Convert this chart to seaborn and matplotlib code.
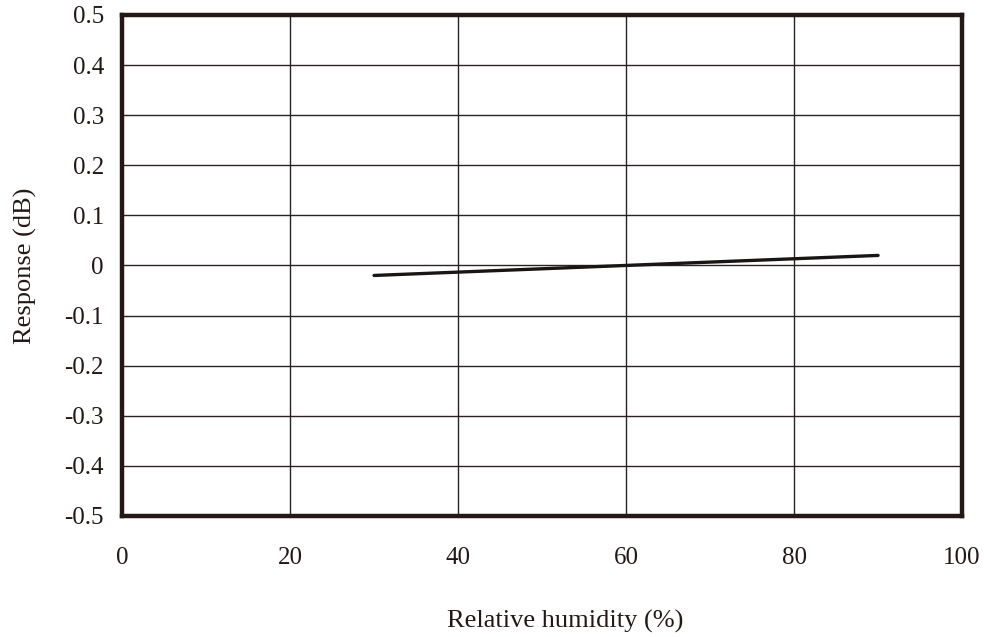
import pandas as pd
import seaborn as sns
import matplotlib
matplotlib.use("Agg")
import matplotlib.pyplot as plt

# humidity response curve
humidity = [30, 60, 90]
response = [-0.02, 0.0, 0.02]

x_ticks = [0, 20, 40, 60, 80, 100]
y_ticks = [-0.5, -0.4, -0.3, -0.2, -0.1, 0, 0.1, 0.2, 0.3, 0.4, 0.5]
y_labels = ["-0.5", "-0.4", "-0.3", "-0.2", "-0.1", "0", "0.1", "0.2", "0.3", "0.4", "0.5"]


def main():
    sns.set_style("white")
    plt.rcParams['font.family'] = ['Liberation Serif', 'DejaVu Serif']

    data = pd.DataFrame({"humidity": humidity, "response": response})

    fig = plt.figure(figsize=(9.85, 6.37), dpi=100)
    ax = fig.add_axes([0.1239, 0.19, 0.8528, 0.7866])

    sns.lineplot(data=data, x="humidity", y="response", color="#1a1414", linewidth=2.4, ax=ax)

    ax.set_xlim(0, 100)
    ax.set_ylim(-0.5, 0.5)
    ax.set_xticks(x_ticks)
    ax.set_yticks(y_ticks)
    ax.set_yticklabels(y_labels)
    ax.grid(True, color="#2a2222", linewidth=1.0)
    ax.set_axisbelow(True)
    for side in ax.spines.values():
        side.set_visible(True)
        side.set_color("#231816")
        side.set_linewidth(3.2)
    ax.tick_params(axis="both", length=0, labelsize=18, colors="#231816")
    ax.tick_params(axis="x", pad=22)
    ax.tick_params(axis="y", pad=13)

    ax.set_xlabel("Relative humidity (%)", fontsize=19, color="#231816")
    ax.xaxis.set_label_coords(0.527, -0.187)
    ax.set_ylabel("Response (dB)", fontsize=19, labelpad=20, color="#231816")

    plt.savefig("out.png", dpi=100)
    plt.close()


if __name__ == "__main__":
    main()
